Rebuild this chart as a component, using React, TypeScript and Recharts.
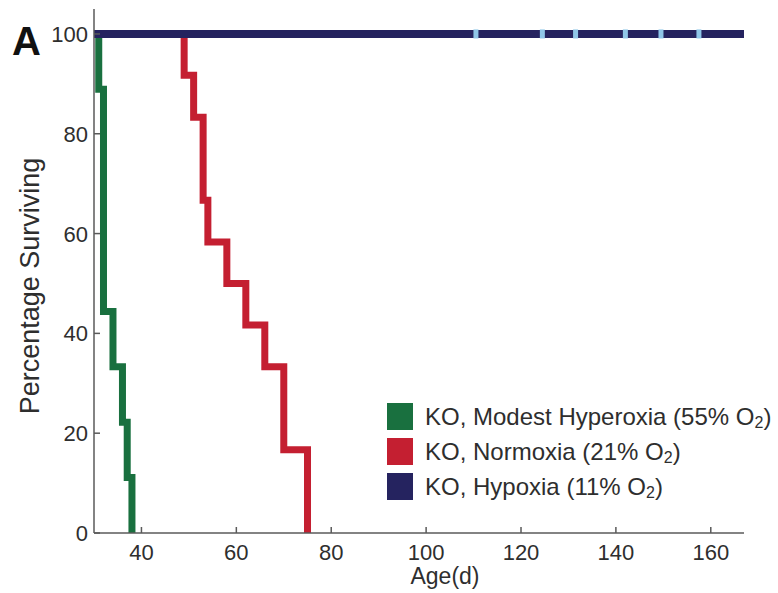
import { LineChart, Line, XAxis, YAxis, Legend } from "recharts"

// Kaplan-Meier steps (day of death, % surviving after it)
const hyperoxiaDays = [30, 31, 32, 34, 36, 37, 38]
const hyperoxiaPct = [100, 88.9, 44.4, 33.3, 22.2, 11.1, 0]
const normoxiaDays = [30, 49, 51, 53, 54, 58, 62, 66, 70, 75]
const normoxiaPct = [100, 91.7, 83.3, 66.7, 58.3, 50, 41.7, 33.3, 16.7, 0]
const hypoxiaDays = [30, 167]
const hypoxiaPct = [100, 100]
const censoredDays = [110.5, 124.5, 131.5, 142, 149.5, 157.5]

const xTicks = [40, 60, 80, 100, 120, 140, 160]
const yTicks = [0, 20, 40, 60, 80, 100]

const seriesNames = ["KO, Modest Hyperoxia (55% O", "KO, Normoxia (21% O", "KO, Hypoxia (11% O"]
const seriesColors = ["#19703f", "#c41f31", "#25235f"]
const censorColor = "#8fc6e8"
const axisColor = "#5a5a5a"
const textColor = "#2e2e2e"
const font = "'Liberation Sans', Arial, Helvetica, sans-serif"

const toPoints = (days: number[], pct: number[]) =>
  days.map((day, i) => ({ day, pct: pct[i] }))

const hyperoxia = toPoints(hyperoxiaDays, hyperoxiaPct)
const normoxia = toPoints(normoxiaDays, normoxiaPct)
const hypoxia = toPoints(hypoxiaDays, hypoxiaPct)
const censored = censoredDays.map((day) => ({ day, pct: 100 }))

const XTick = ({ x, y, payload }: any) => (
  <g>
    <line x1={x} y1={y} x2={x} y2={y - 6} stroke={axisColor} strokeWidth={1.5} />
    <text x={x} y={y + 27} textAnchor="middle" fontSize={22} fill={textColor} fontFamily={font}>
      {payload.value}
    </text>
  </g>
)

const YTick = ({ x, y, payload }: any) => (
  <g>
    <line x1={x} y1={y} x2={x + 6} y2={y} stroke={axisColor} strokeWidth={1.5} />
    <text x={x - 6} y={y + 8} textAnchor="end" fontSize={22} fill={textColor} fontFamily={font}>
      {payload.value}
    </text>
  </g>
)

const CensorMark = ({ cx, cy }: any) => (
  <rect x={cx - 2.5} y={cy - 4.5} width={5} height={9} fill={censorColor} />
)

const SurvivalLegend = () => (
  <div style={{ fontFamily: font, fontSize: 24, color: textColor }}>
    {seriesNames.map((name, i) => (
      <div key={name} style={{ display: "flex", alignItems: "center", height: 35 }}>
        <span
          style={{
            display: "inline-block",
            flex: "none",
            width: 26,
            height: 27,
            background: seriesColors[i],
            marginRight: 12,
          }}
        />
        <span style={{ whiteSpace: "nowrap" }}>
          {name}
          <span style={{ fontSize: 16, position: "relative", top: 3 }}>2</span>)
        </span>
      </div>
    ))}
  </div>
)

const App = () => {
  return (
    <div
      style={{
        position: "fixed",
        top: 0,
        left: 0,
        background: "#fff",
        width: 778,
        height: 593,
        overflow: "hidden",
      }}
    >
      <LineChart
        width={778}
        height={593}
        margin={{ top: 9, right: 34, left: 0, bottom: 0 }}
      >
        <XAxis
          type="number"
          dataKey="day"
          domain={[30, 167]}
          ticks={xTicks}
          height={60}
          tickSize={0}
          tickMargin={0}
          tick={<XTick />}
          stroke={axisColor}
          strokeWidth={1.5}
          allowDuplicatedCategory={false}
        />
        <YAxis
          type="number"
          dataKey="pct"
          domain={[0, 105]}
          ticks={yTicks}
          width={94}
          tickSize={0}
          tickMargin={0}
          tick={<YTick />}
          stroke={axisColor}
          strokeWidth={1.5}
        />
        <Line
          data={hyperoxia}
          dataKey="pct"
          type="stepAfter"
          stroke={seriesColors[0]}
          strokeWidth={7}
          dot={false}
          isAnimationActive={false}
        />
        <Line
          data={normoxia}
          dataKey="pct"
          type="stepAfter"
          stroke={seriesColors[1]}
          strokeWidth={7}
          dot={false}
          isAnimationActive={false}
        />
        <Line
          data={hypoxia}
          dataKey="pct"
          type="linear"
          stroke={seriesColors[2]}
          strokeWidth={8}
          dot={false}
          isAnimationActive={false}
        />
        <Line
          data={censored}
          dataKey="pct"
          stroke="none"
          dot={<CensorMark />}
          activeDot={false}
          isAnimationActive={false}
        />
        <Legend
          layout="vertical"
          align="center"
          verticalAlign="middle"
          content={<SurvivalLegend />}
          wrapperStyle={{ left: 387, top: 399, width: 391 }}
        />
        <text x={12} y={55} fontSize={40} fontWeight="bold" fill="#111" fontFamily={font}>
          A
        </text>
        <text
          x={30}
          y={286}
          transform="rotate(-90 30 286)"
          textAnchor="middle"
          dominantBaseline="central"
          fontSize={27}
          fill={textColor}
          fontFamily={font}
        >
          Percentage Surviving
        </text>
        <text x={445} y={584} textAnchor="middle" fontSize={23} fill={textColor} fontFamily={font}>
          Age(d)
        </text>
      </LineChart>
    </div>
  )
}

export default App
